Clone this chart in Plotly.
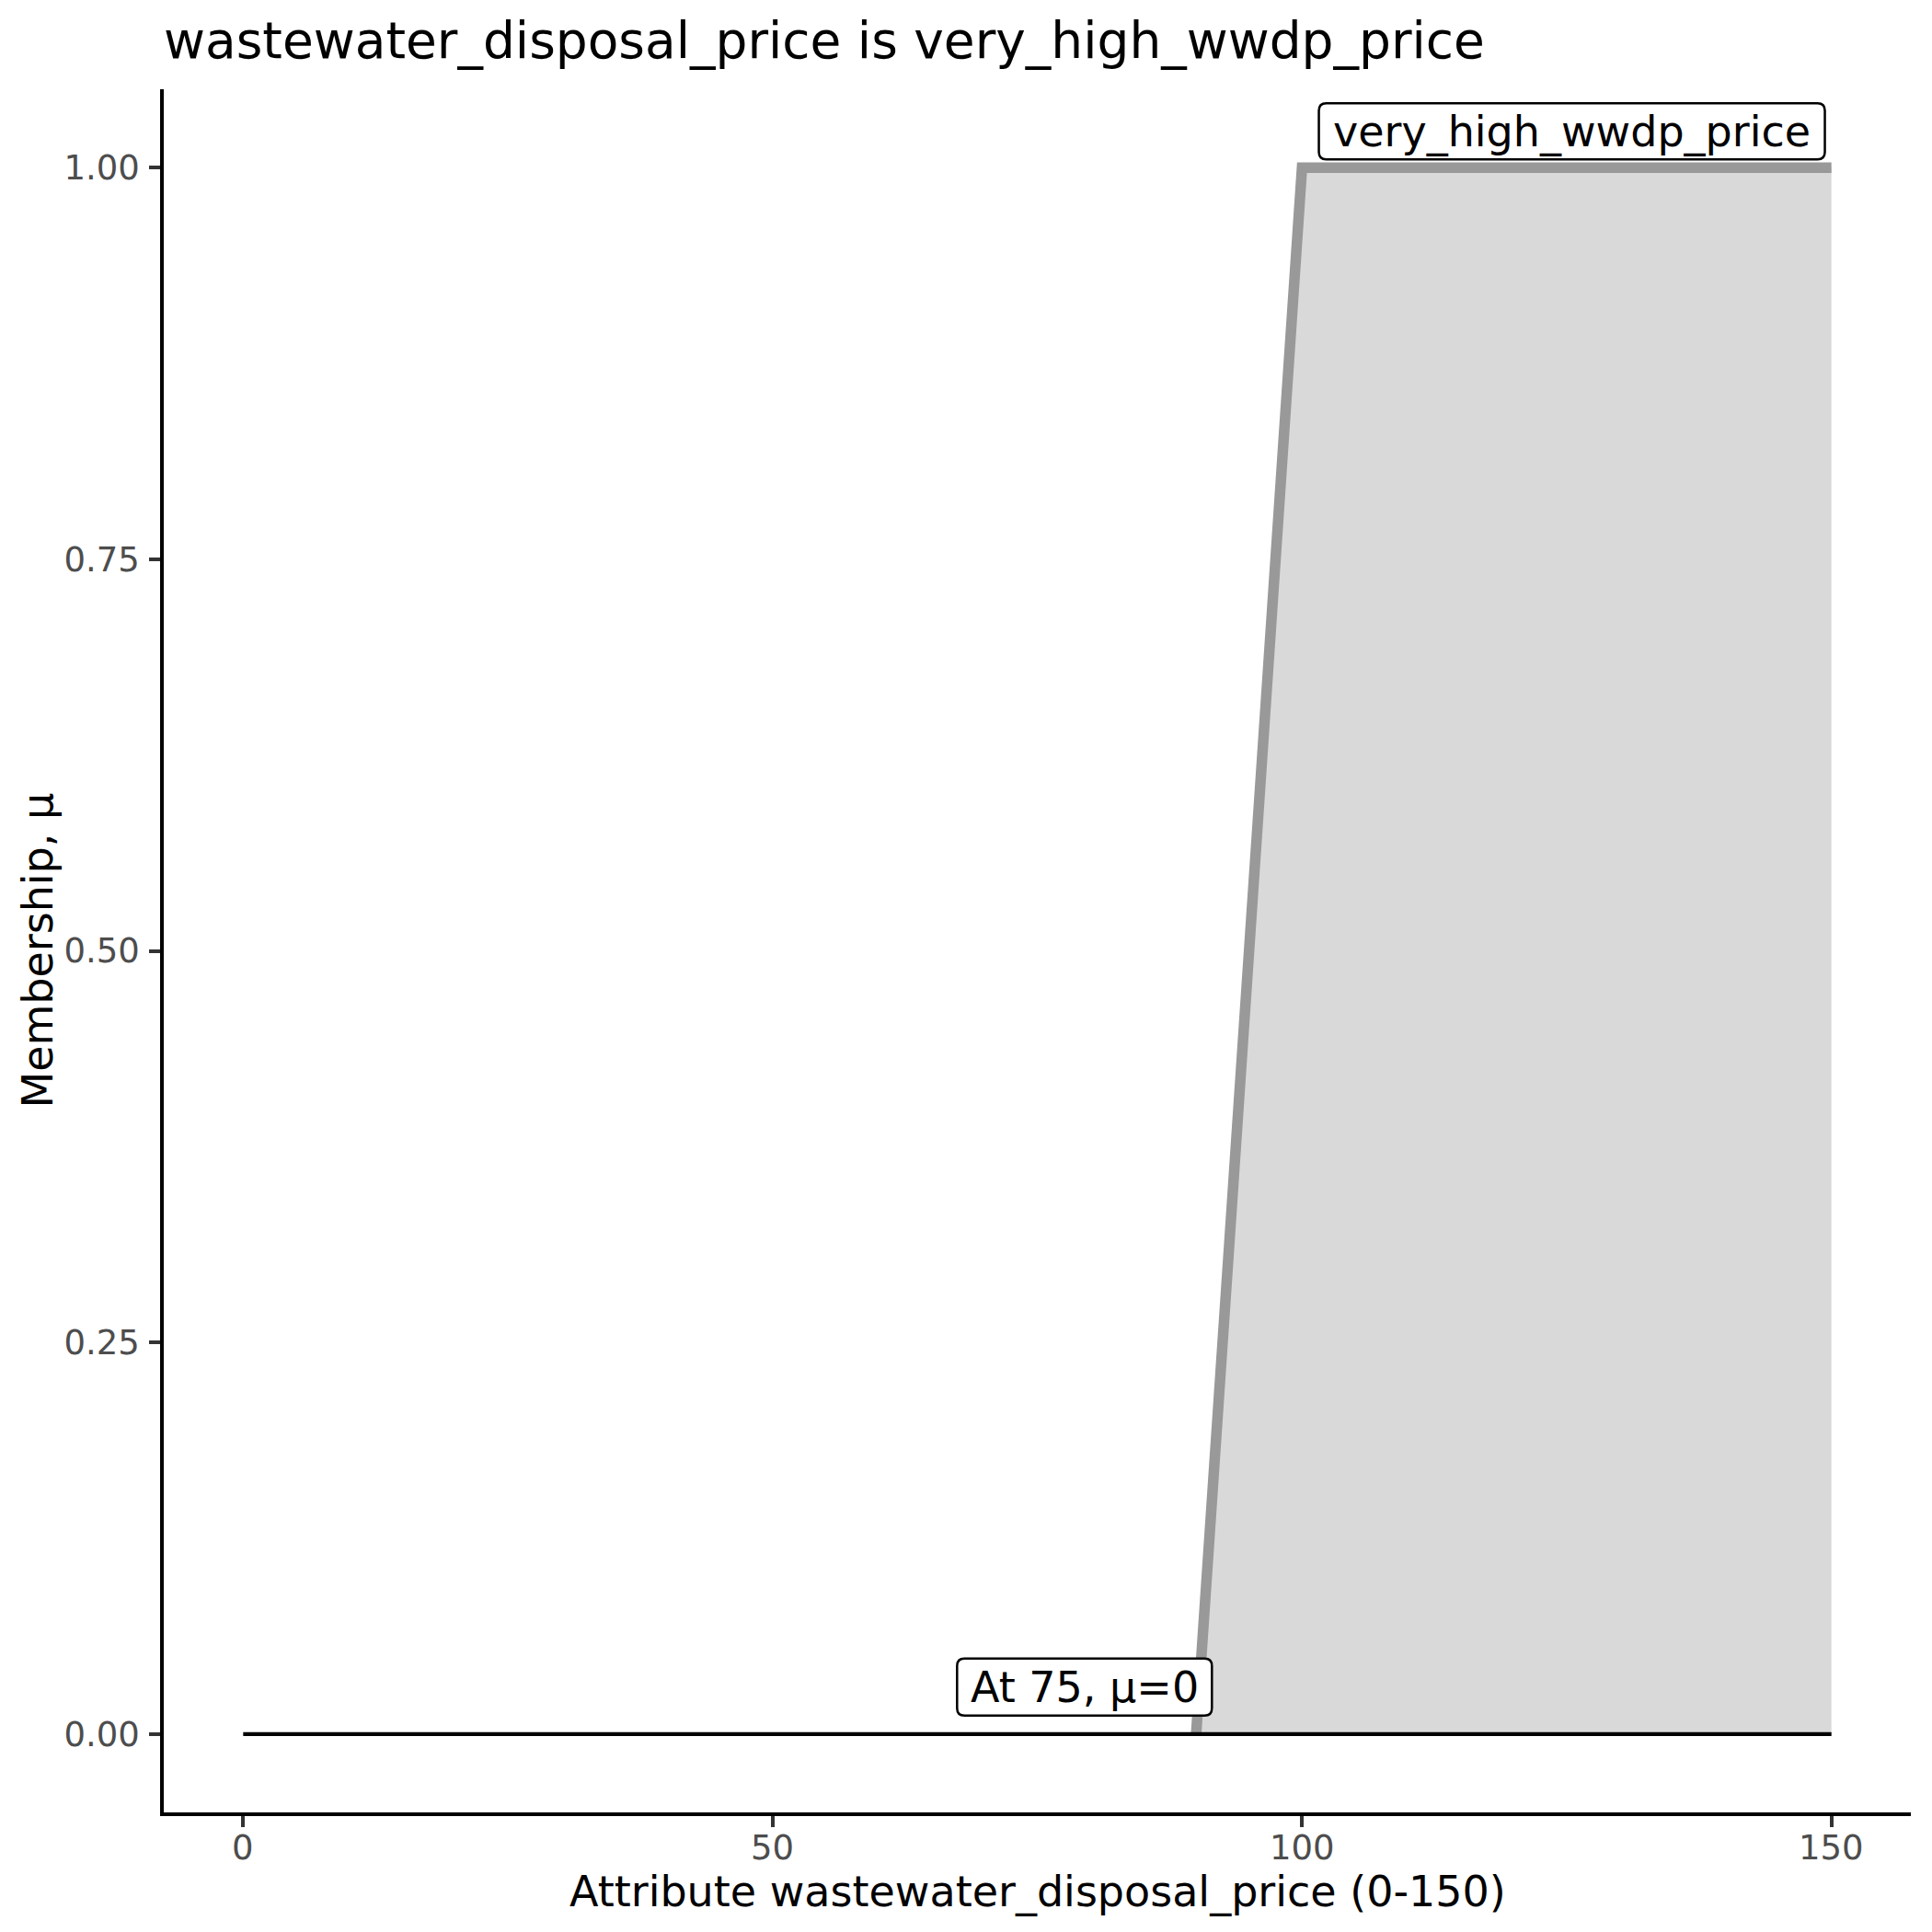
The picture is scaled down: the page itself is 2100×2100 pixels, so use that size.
import plotly.graph_objects as go

# Data
mf_x = [90, 100, 150]          # very_high_wwdp_price membership breakpoints
mf_y = [0, 1, 1]
eval_x = [0, 150]              # evaluation line (membership at 75)
eval_y = [0, 0]
set_label = "very_high_wwdp_price"
set_label_x = 125
set_label_y = 1
eval_label = "At 75, μ=0"
eval_label_x = 75
eval_label_y = 0
x_ticks = [0, 50, 100, 150]
x_ticktext = ["0", "50", "100", "150"]
y_ticks = [0, 0.25, 0.5, 0.75, 1.0]
y_ticktext = ["0.00", "0.25", "0.50", "0.75", "1.00"]

FONT = "DejaVu Sans"
OFF = 8  # page body margin compensation

fig = go.Figure()
fig.add_trace(go.Scatter(
    x=mf_x, y=mf_y, mode="lines", fill="tozeroy",
    fillcolor="#D9D9D9", line=dict(color="#999999", width=11.5),
    showlegend=False, hoverinfo="skip"))
fig.add_trace(go.Scatter(
    x=eval_x, y=eval_y, mode="lines",
    line=dict(color="black", width=4.4),
    showlegend=False, hoverinfo="skip"))


def rounded_box(cx, cy, w, h, r=8):
    x0, x1 = cx - w / 2, cx + w / 2
    y0, y1 = cy - h / 2, cy + h / 2
    return (f"M{x0+r},{y0} L{x1-r},{y0} Q{x1},{y0} {x1},{y0+r} "
            f"L{x1},{y1-r} Q{x1},{y1} {x1-r},{y1} L{x0+r},{y1} "
            f"Q{x0},{y1} {x0},{y1-r} L{x0},{y0+r} Q{x0},{y0} {x0+r},{y0} Z")


def label(xv, yv, text, dx, dy, w, h):
    fig.add_shape(type="path", xref="x", yref="y",
                  xsizemode="pixel", ysizemode="pixel", xanchor=xv, yanchor=yv,
                  path=rounded_box(dx, dy, w, h),
                  fillcolor="white", line=dict(color="black", width=2.5), layer="above")
    fig.add_annotation(x=xv, y=yv, text=text, showarrow=False,
                       xanchor="center", yanchor="middle", xshift=dx, yshift=dy,
                       font=dict(family=FONT, size=46, color="black"))


label(set_label_x, set_label_y, set_label, 5.6, 39.4, 550, 61)
label(eval_label_x, eval_label_y, eval_label, 51.3, 51, 277, 62)

# x tick labels (placed on the x scale)
for tv, tt in zip(x_ticks, x_ticktext):
    fig.add_annotation(x=tv, xref="x", y=0, yref="paper", text=tt, showarrow=False,
                       xanchor="center", yanchor="middle", yshift=-38,
                       font=dict(family=FONT, size=37, color="#4D4D4D"))

# axis titles
fig.add_annotation(xref="paper", yref="paper", x=0.5, y=0, yanchor="middle",
                   yshift=-86, showarrow=False,
                   text="Attribute wastewater_disposal_price (0-150)",
                   font=dict(family=FONT, size=46, color="black"))
fig.add_annotation(xref="paper", yref="paper", x=0, y=0.5, xanchor="center",
                   xshift=-138, showarrow=False, textangle=-90,
                   text="Membership, μ",
                   font=dict(family=FONT, size=46, color="black"))

fig.update_layout(
    width=2100, height=2100,
    margin=dict(l=178 - OFF, r=31, t=97 - OFF, b=138, autoexpand=False),
    paper_bgcolor="white", plot_bgcolor="white",
    font=dict(family=FONT),
    title=dict(text="wastewater_disposal_price is very_high_wwdp_price",
               xref="container", yref="container",
               x=(178 - OFF) / 2100, xanchor="left",
               y=1 - (44 - OFF) / 2100, yanchor="middle",
               font=dict(family=FONT, size=55, color="black")),
)
fig.update_xaxes(
    range=[-7.5, 157.5], tickvals=x_ticks, showticklabels=False,
    showgrid=False, zeroline=False, showline=True, linecolor="black", linewidth=4.4,
    ticks="outside", ticklen=11.5, tickwidth=4.4, tickcolor="#333333",
    automargin=False)
fig.update_yaxes(
    range=[-0.05, 1.05], tickvals=y_ticks, ticktext=y_ticktext,
    showgrid=False, zeroline=False, showline=True, linecolor="black", linewidth=4.4,
    ticks="outside", ticklen=11.5, tickwidth=4.4, tickcolor="#333333",
    tickfont=dict(family=FONT, size=37, color="#4D4D4D"), ticklabelstandoff=3,
    automargin=False)

fig.write_html("out.html")
